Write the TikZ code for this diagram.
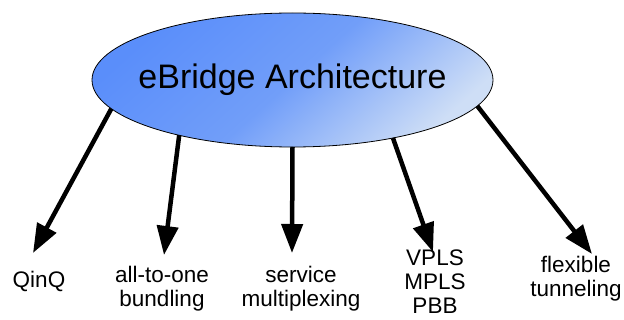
\documentclass[tikz,border=0pt]{standalone}
\usepackage{fontspec}
\setmainfont{Liberation Sans}
\usepackage{xcolor}
\usepackage{tikz}
\usetikzlibrary{positioning,shapes,calc}
\usetikzlibrary{arrows.meta}

\definecolor{archblue}{RGB}{90,142,250}
\definecolor{archlight}{RGB}{206,222,246}

\begin{document}
\begin{tikzpicture}[x=1pt, y=-1pt,
    archnode/.style={ellipse, draw=black, line width=0.8pt, inner sep=0pt, outer sep=0pt,
      minimum width=401pt, minimum height=134pt,
      top color=archblue, bottom color=archlight, middle color=archblue!80!archlight, shading angle=42,
      font=\fontsize{34}{40}\selectfont},
    feature/.style={align=center, anchor=base, inner sep=0pt, font=\fontsize{22.5}{24}\selectfont},
    branch/.style={line width=4.5pt, -{Triangle[length=29pt, width=21pt]}}]
    \useasboundingbox (0,0) rectangle (624,320);

    \node[archnode] (arch) at (292.5,80) {\makebox[0pt]{\raisebox{-2pt}{eBridge Architecture}}};

    \coordinate (tipqinq) at (33,253);
    \coordinate (tipbundle) at (164,255);
    \coordinate (tipmux) at (292,253);
    \coordinate (tipvpls) at (433,252);
    \coordinate (tipflex) at (592,254);

    % bottom line baselines
    \node[feature] (qinq) at (39,288) {QinQ};
    \node[feature] (bundle) at (162,307) {all-to-one\\bundling};
    \node[feature] (mux) at (301,307) {service\\multiplexing};
    \node[feature] (vpls) at (435,314) {VPLS\\MPLS\\PBB};
    \node[feature] (flex) at (576,297) {flexible\\tunneling};

    \draw[branch] (arch.189) -- (tipqinq);
    \draw[branch] (arch.206) -- (tipbundle);
    \draw[branch] (arch.270) -- (tipmux);
    \draw[branch] (arch.330) -- (tipvpls);
    \draw[branch] (arch.352) -- (tipflex);
\end{tikzpicture}
\end{document}
